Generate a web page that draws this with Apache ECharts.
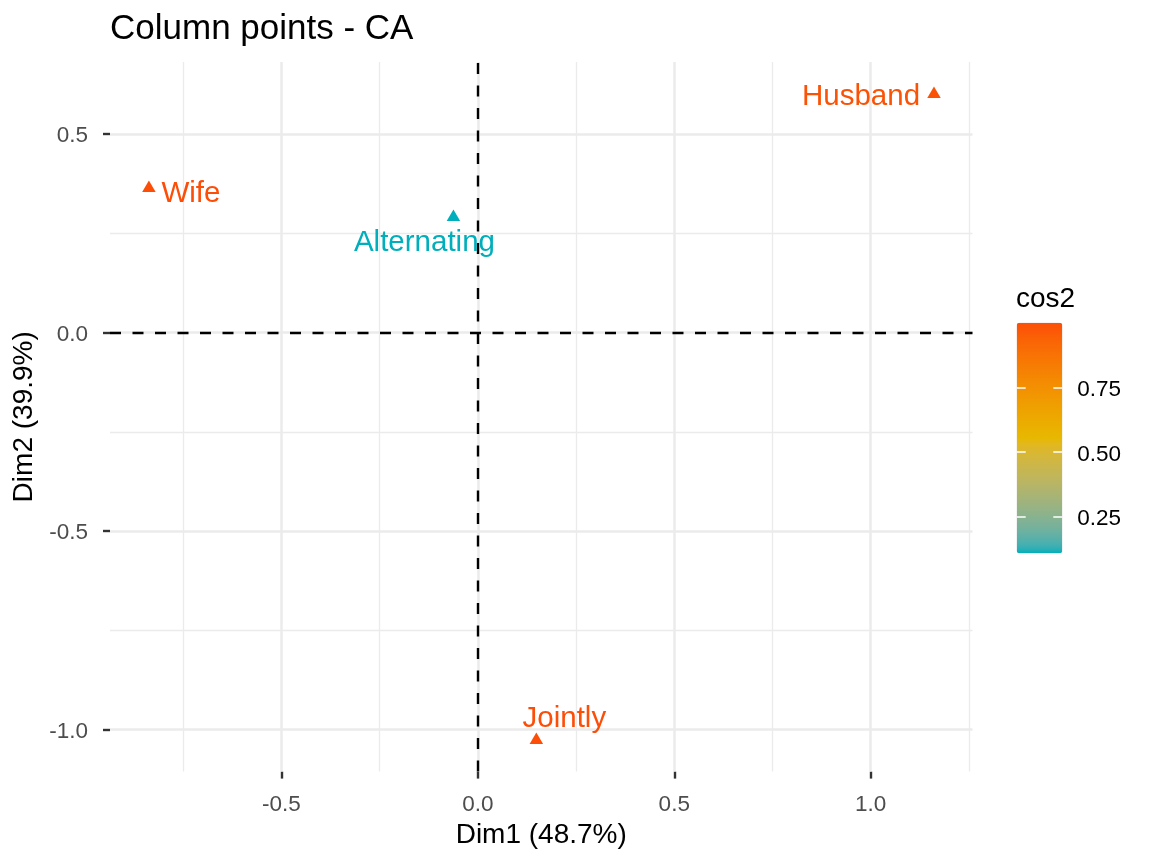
<!DOCTYPE html>
<html>
<head>
<meta charset="utf-8">
<script src="https://cdn.jsdelivr.net/npm/echarts@6/dist/echarts.min.js"></script>
<style>
  html, body { margin: 0; padding: 0; background: #fff; }
  #chart { width: 1152px; height: 864px; }
</style>
</head>
<body>
<div id="chart"></div>
<script>
// column points of the CA (housetasks)
var categories = ['Wife', 'Alternating', 'Jointly', 'Husband'];
var dim1 = [-0.837, -0.062, 0.149, 1.161];
var dim2 = [0.364, 0.291, -1.027, 0.601];
var cos2 = [0.999, 0.107, 1.000, 0.985];

var xTicks = [-0.5, 0, 0.5, 1.0];
var yTicks = [-1.0, -0.5, 0, 0.5];
var xMinor = [-0.75, -0.25, 0.25, 0.75, 1.25];
var yMinor = [-0.75, -0.25, 0.25];
var legendTicks = [0.25, 0.5, 0.75];
var gradientCols = ['#00AFBB', '#E7B800', '#FC4E07'];

// label placement (pixels, from the point)
var labelOffsets = {
    Wife: [42, 7.5],
    Alternating: [-29, 28],
    Jointly: [28, -19.5],
    Husband: [-73, 4.5]
};

var FONT = '"Liberation Sans", Arial, Helvetica, sans-serif';

// ggplot style gradient, interpolated in Lab
function hexToRgb(h) {
    return [parseInt(h.substr(1, 2), 16), parseInt(h.substr(3, 2), 16), parseInt(h.substr(5, 2), 16)];
}
function toLin(c) { c = c / 255; return c <= 0.04045 ? c / 12.92 : Math.pow((c + 0.055) / 1.055, 2.4); }
function fromLin(c) {
    c = c <= 0.0031308 ? 12.92 * c : 1.055 * Math.pow(c, 1 / 2.4) - 0.055;
    return Math.round(Math.max(0, Math.min(1, c)) * 255);
}
function rgbToLab(rgb) {
    var R = toLin(rgb[0]), G = toLin(rgb[1]), B = toLin(rgb[2]);
    var X = (0.4124 * R + 0.3576 * G + 0.1805 * B) / 0.95047;
    var Y = (0.2126 * R + 0.7152 * G + 0.0722 * B);
    var Z = (0.0193 * R + 0.1192 * G + 0.9505 * B) / 1.08883;
    var f = function (t) { return t > 0.008856 ? Math.cbrt(t) : 7.787 * t + 16 / 116; };
    var fx = f(X), fy = f(Y), fz = f(Z);
    return [116 * fy - 16, 500 * (fx - fy), 200 * (fy - fz)];
}
function labToHex(lab) {
    var fy = (lab[0] + 16) / 116, fx = fy + lab[1] / 500, fz = fy - lab[2] / 200;
    var inv = function (t) { return t * t * t > 0.008856 ? t * t * t : (t - 16 / 116) / 7.787; };
    var X = inv(fx) * 0.95047, Y = inv(fy), Z = inv(fz) * 1.08883;
    var r = fromLin(3.2406 * X - 1.5372 * Y - 0.4986 * Z);
    var g = fromLin(-0.9689 * X + 1.8758 * Y + 0.0415 * Z);
    var b = fromLin(0.0557 * X - 0.2040 * Y + 1.0570 * Z);
    return 'rgb(' + r + ',' + g + ',' + b + ')';
}
function labRamp(cols, n) {
    var labs = cols.map(function (c) { return rgbToLab(hexToRgb(c)); });
    var out = [];
    for (var i = 0; i < n; i++) {
        var t = i / (n - 1) * (labs.length - 1);
        var k = Math.min(Math.floor(t), labs.length - 2);
        var u = t - k;
        out.push(labToHex([0, 1, 2].map(function (j) { return labs[k][j] + (labs[k + 1][j] - labs[k][j]) * u; })));
    }
    out[0] = cols[0];
    out[n - 1] = cols[cols.length - 1];
    return out;
}

var cMin = Math.min.apply(null, cos2);
var cMax = Math.max.apply(null, cos2);

var points = categories.map(function (name, i) {
    return {
        name: name,
        value: [dim1[i], dim2[i], cos2[i]],
        label: { offset: labelOffsets[name] }
    };
});

function vLines(vals) { return vals.map(function (v) { return { xAxis: v }; }); }
function hLines(vals) { return vals.map(function (v) { return { yAxis: v }; }); }

var myChart = echarts.init(document.getElementById('chart'), null, { renderer: 'canvas' });

var option = {
    backgroundColor: '#ffffff',
    animation: false,
    textStyle: { fontFamily: FONT },
    title: [
        {
            text: 'Column points - CA',
            left: 110, top: 12, padding: 0,
            textStyle: { fontSize: 35, fontWeight: 'normal', color: '#000', fontFamily: FONT }
        },
        {
            text: 'cos2',
            left: 1016, top: 285, padding: 0,
            textStyle: { fontSize: 28, fontWeight: 'normal', color: '#000', fontFamily: FONT }
        }
    ],
    grid: [
        { left: 110, right: 179.5, top: 62, bottom: 92.4 },
        { left: 1016.7, top: 322.7, width: 45.6, height: 230.6 }
    ],
    xAxis: [
        {
            type: 'value', gridIndex: 0, min: -0.936, max: 1.259,
            name: 'Dim1 (48.7%)', nameLocation: 'middle', nameGap: 50,
            nameTextStyle: { fontSize: 28, color: '#000', fontFamily: FONT },
            axisLine: { show: false, onZero: false },
            axisTick: { show: true, customValues: xTicks, length: 7, lineStyle: { color: '#333', width: 2.4 } },
            axisLabel: {
                customValues: xTicks, margin: 22, fontSize: 22.5, color: '#4D4D4D', fontFamily: FONT,
                formatter: function (v) { return v.toFixed(1); }
            },
            splitLine: { show: false }
        },
        { type: 'value', gridIndex: 1, show: false, min: 0, max: 1 }
    ],
    yAxis: [
        {
            type: 'value', gridIndex: 0, min: -1.106, max: 0.682,
            name: 'Dim2 (39.9%)', nameLocation: 'middle', nameGap: 70,
            nameTextStyle: { fontSize: 28, color: '#000', fontFamily: FONT },
            axisLine: { show: false, onZero: false },
            axisTick: { show: true, customValues: yTicks, length: 7, lineStyle: { color: '#333', width: 2.4 } },
            axisLabel: {
                customValues: yTicks, margin: 22,
                formatter: function (v) { return '{t|' + v.toFixed(1) + '}'; },
                rich: { t: { fontSize: 22.5, color: '#4D4D4D', fontFamily: FONT, padding: [4, 0, 0, 0] } }
            },
            splitLine: { show: false }
        },
        {
            type: 'value', gridIndex: 1, position: 'left', min: cMin, max: cMax, z: 10,
            axisLine: { show: false, onZero: false },
            axisTick: { show: true, inside: true, customValues: legendTicks, length: 9, lineStyle: { color: '#fff', width: 1.5 } },
            axisLabel: { show: false },
            splitLine: { show: false }
        },
        {
            type: 'value', gridIndex: 1, position: 'right', min: cMin, max: cMax, z: 10,
            axisLine: { show: false, onZero: false },
            axisTick: { show: true, inside: true, customValues: legendTicks, length: 9, lineStyle: { color: '#fff', width: 1.5 } },
            axisLabel: {
                customValues: legendTicks, margin: 15,
                formatter: function (v) { return '{t|' + v.toFixed(2) + '}'; },
                rich: { t: { fontSize: 22.5, color: '#000', fontFamily: FONT, padding: [5, 0, 0, 0] } }
            },
            splitLine: { show: false }
        }
    ],
    visualMap: {
        type: 'continuous', min: cMin, max: cMax, dimension: 2, seriesIndex: 3,
        orient: 'vertical', left: 1016.7, top: 322.7, itemWidth: 45.6, itemHeight: 230.6,
        padding: 0, calculable: false, hoverLink: false, text: null,
        inRange: { color: labRamp(gradientCols, 41) }
    },
    series: [
        {
            type: 'scatter', xAxisIndex: 0, yAxisIndex: 0, data: [], z: 1, silent: true,
            markLine: {
                silent: true, symbol: 'none', label: { show: false }, animation: false,
                lineStyle: { color: '#EBEBEB', width: 1.3, type: 'solid' },
                data: vLines(xMinor).concat(hLines(yMinor))
            }
        },
        {
            type: 'scatter', xAxisIndex: 0, yAxisIndex: 0, data: [], z: 2, silent: true,
            markLine: {
                silent: true, symbol: 'none', label: { show: false }, animation: false,
                lineStyle: { color: '#EBEBEB', width: 2.5, type: 'solid' },
                data: vLines(xTicks).concat(hLines(yTicks))
            }
        },
        {
            type: 'scatter', xAxisIndex: 0, yAxisIndex: 0, data: [], z: 3, silent: true,
            markLine: {
                silent: true, symbol: 'none', label: { show: false }, animation: false,
                lineStyle: { color: '#000', width: 2.4, type: [11, 11.5] },
                data: vLines([0]).concat(hLines([0]))
            }
        },
        {
            type: 'scatter', xAxisIndex: 0, yAxisIndex: 0, z: 5,
            symbol: 'triangle', symbolSize: [13.5, 11.5], symbolOffset: [0, -2],
            itemStyle: { opacity: 1 },
            data: points,
            label: {
                show: true, position: 'inside', color: 'inherit',
                fontSize: 29.5, fontFamily: FONT, textBorderWidth: 0,
                formatter: function (p) { return p.name; }
            },
            emphasis: { disabled: true }
        }
    ]
};
myChart.setOption(option);
</script>
</body>
</html>
